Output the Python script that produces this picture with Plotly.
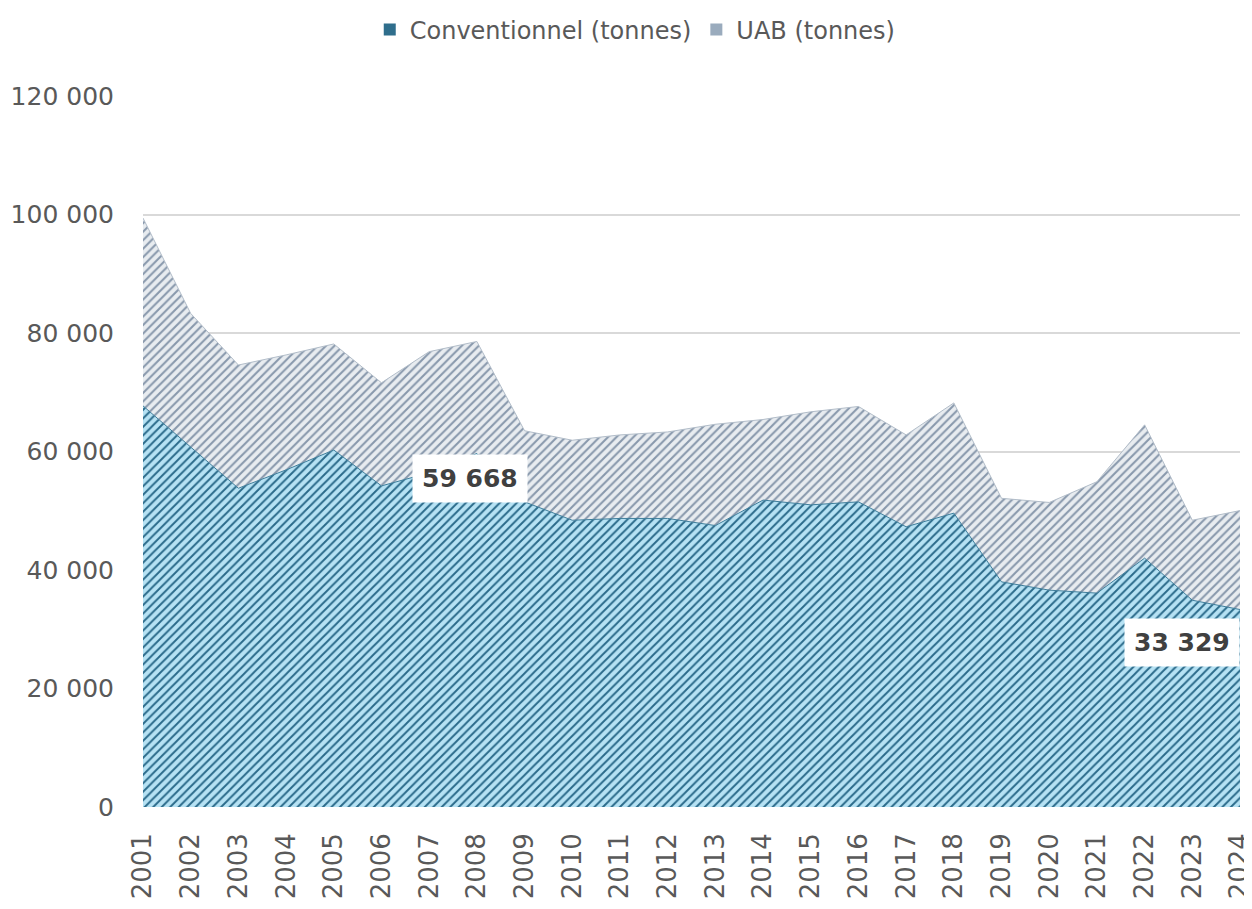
import plotly.graph_objects as go

years = [2001, 2002, 2003, 2004, 2005, 2006, 2007, 2008, 2009, 2010, 2011, 2012,
         2013, 2014, 2015, 2016, 2017, 2018, 2019, 2020, 2021, 2022, 2023, 2024]
conventionnel = [67700, 60800, 53800, 56900, 60250, 54200, 56400, 59668, 51500, 48400, 48700, 48700,
                 47500, 51800, 51000, 51500, 47300, 49600, 38000, 36600, 36100, 42000, 34900, 33329]
uab = [31700, 22500, 20800, 19400, 17900, 17400, 20450, 18900, 12000, 13500, 14100, 14600,
       17100, 13600, 15700, 16100, 15500, 18600, 14100, 14800, 18800, 22500, 13500, 16700]
y_ticks = [0, 20000, 40000, 60000, 80000, 100000, 120000]
labelled_years = [2008, 2024]


def fmt(v):
    return f"{v:,}".replace(",", " ")


FONT = "DejaVu Sans"
GRAY = "#595959"

CONV_PAT = dict(shape="/", fgcolor="#2a6a8a", bgcolor="#b6e2f4", size=6, solidity=0.32, fillmode="replace")
UAB_PAT = dict(shape="/", fgcolor="#8898ac", bgcolor="#e8ecf0", size=6, solidity=0.34, fillmode="replace")

fig = go.Figure()
fig.add_trace(go.Scatter(
    x=years, y=conventionnel, name="Conventionnel (tonnes)",
    stackgroup="one", mode="lines", showlegend=False,
    line=dict(width=1, color="#3d7d9b"),
    fillpattern=CONV_PAT,
))
fig.add_trace(go.Scatter(
    x=years, y=uab, name="UAB (tonnes)",
    stackgroup="one", mode="lines", showlegend=False,
    line=dict(width=1, color="#b2bdc9"),
    fillpattern=UAB_PAT,
))
# legend entries (square symbols)
fig.add_trace(go.Bar(x=[None], y=[None], name="Conventionnel (tonnes)",
                     marker=dict(color="#2f6e8c", line=dict(width=0)),
                     hoverinfo="skip"))
fig.add_trace(go.Bar(x=[None], y=[None], name="UAB (tonnes)",
                     marker=dict(color="#9aabbd", line=dict(width=0)),
                     hoverinfo="skip"))

for yr in labelled_years:
    i = years.index(yr)
    last = (i == len(years) - 1)
    fig.add_annotation(
        x=yr, y=conventionnel[i], text=f"<b>{fmt(conventionnel[i])}</b>",
        showarrow=False, xanchor="right" if last else "center", yanchor="top",
        xshift=0 if last else -7, yshift=-1 if not last else -8,
        bgcolor="white", borderpad=9,
        font=dict(family=FONT, size=25, color="#404040"),
    )

fig.update_layout(
    width=1252, height=909,
    margin=dict(l=135, r=20, t=88, b=110, autoexpand=False),
    paper_bgcolor="white", plot_bgcolor="white",
    font=dict(family=FONT, color=GRAY),
    showlegend=True,
    legend=dict(orientation="h", xref="container", yref="container",
                x=0.501, xanchor="center", y=0.976, yanchor="middle",
                font=dict(family=FONT, size=24, color=GRAY),
                itemwidth=30, traceorder="normal"),
    xaxis=dict(range=[years[0], years[-1]], tickmode="array", tickvals=years,
               ticktext=[str(y) for y in years], tickangle=-90, automargin=False,
               showgrid=False, zeroline=False, showline=False, ticklabelstandoff=20,
               tickfont=dict(family=FONT, size=26, color=GRAY), ticks=""),
    yaxis=dict(range=[0, 120000], tickmode="array", tickvals=y_ticks,
               ticktext=[fmt(v) for v in y_ticks], automargin=False,
               showgrid=True, gridcolor="#d9d9d9", gridwidth=1.5, ticklabelstandoff=28,
               zeroline=False, showline=False, ticks="",
               tickfont=dict(family=FONT, size=25, color=GRAY)),
)

fig.write_html("out.html")
